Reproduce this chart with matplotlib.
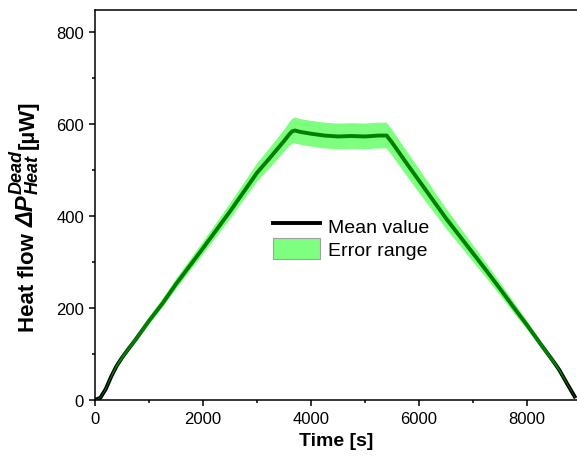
import matplotlib
matplotlib.use("Agg")
import matplotlib.pyplot as plt
import matplotlib.transforms as mtransforms
from matplotlib.patches import Patch
from matplotlib.lines import Line2D
from matplotlib.ticker import MultipleLocator

plt.rcParams['font.family'] = ['Liberation Sans', 'DejaVu Sans']

time_s = [0, 100, 200, 300, 400, 500, 600, 750,
          1000, 1250, 1500, 1750, 2000, 2250, 2500, 2750,
          3000, 3250, 3500, 3600, 3650, 3700, 3800,
          4000, 4250, 4500, 4750, 5000, 5250, 5400,
          5500, 5750, 6000, 6250, 6500, 6750, 7000, 7250,
          7500, 7750, 8000, 8250, 8400, 8500, 8600, 8750, 8900]
mean_uW = [0, 5, 24, 51, 74, 92, 108, 131,
           172, 210, 252, 291, 330, 370, 410, 452,
           494, 528, 563, 578, 584, 586, 583,
           579, 575, 573, 574, 573, 575, 575,
           560, 518, 477, 436, 395, 357, 319, 281,
           242, 202, 163, 122, 98, 82, 65, 34, 4]
err_uW = [0, 1, 2, 3, 4, 5, 5, 6,
          8, 9, 11, 12, 14, 15, 17, 18,
          20, 22, 24, 26, 27, 28, 28,
          28, 28, 28, 28, 28, 28, 28,
          28, 27, 26, 24, 22, 20, 18, 16,
          14, 12, 9, 7, 6, 5, 4, 2, 1]

lower = [m - e for m, e in zip(mean_uW, err_uW)]
upper = [m + e for m, e in zip(mean_uW, err_uW)]

fig = plt.figure(figsize=(5.77, 4.64), dpi=100)
ax = fig.add_axes([95/577, 63/464, 1 - 95/577, 390/464])

ax.plot(time_s, mean_uW, color='black', lw=2.8, zorder=2, solid_capstyle='butt')
ax.fill_between(time_s, lower, upper, facecolor=(0, 1, 0, 0.5), edgecolor='none', zorder=3)

ax.set_xlim(0, 8926)
ax.set_ylim(0, 848)
ax.xaxis.set_major_locator(MultipleLocator(2000))
ax.xaxis.set_minor_locator(MultipleLocator(1000))
ax.yaxis.set_major_locator(MultipleLocator(200))
ax.yaxis.set_minor_locator(MultipleLocator(100))
ax.tick_params(which='both', direction='out', width=1.1, labelsize=12, top=False, right=False)
ax.tick_params(which='major', length=4.5)
ax.tick_params(which='minor', length=2.5)
for s in ['left', 'bottom', 'top']:
    ax.spines[s].set_linewidth(1.1)
ax.spines['right'].set_visible(False)

ax.set_xlabel('Time [s]', fontsize=14, fontweight='bold', labelpad=4)

# y label built from pieces (rotated text)
renderer = fig.canvas.get_renderer()
px = mtransforms.IdentityTransform()
base_x = 34.0          # baseline x in pixels
y = 464 - 332.0        # start (bottom) in pixels from bottom

def piece(x, y, s, size, style='normal'):
    t = fig.text(x, y, s, rotation=90, rotation_mode='anchor', ha='left', va='baseline',
                 fontsize=size, fontweight='bold', fontstyle=style, transform=px)
    return t.get_window_extent(renderer)

bb = piece(base_x, y, 'Heat flow', 16)
y = bb.y1 + 6
bb = piece(base_x, y, 'ΔP', 17, 'italic')
y = bb.y1 + 1
bb1 = piece(base_x - 12, y, 'Dead', 13, 'italic')
bb2 = piece(base_x + 4, y, 'Heat', 13, 'italic')
y = max(bb1.y1, bb2.y1) + 1
piece(base_x, y, '[µW]', 16)

handles = [Line2D([], [], color='black', lw=2.8),
           Patch(facecolor=(0, 1, 0, 0.5), edgecolor='#a0a0a0', lw=0.8)]
ax.legend(handles, ['Mean value', 'Error range'], loc='upper left',
          bbox_to_anchor=(0.37, 0.475), frameon=False, fontsize=14,
          handlelength=2.4, handleheight=1.25, handletextpad=0.4,
          labelspacing=0.15, borderpad=0, borderaxespad=0)

fig.savefig('out.png', dpi=100)
